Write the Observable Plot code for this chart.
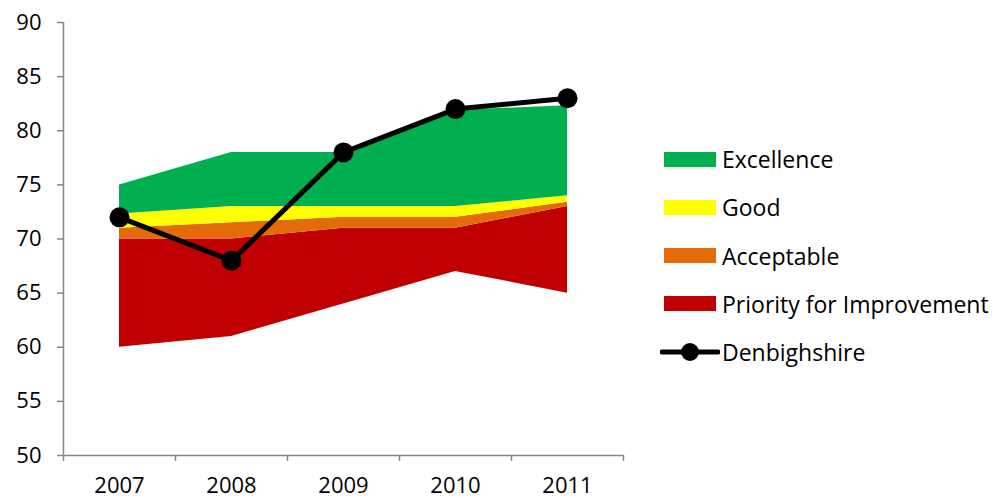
<!DOCTYPE html>
<html><head><meta charset="utf-8">
<script src="https://cdn.jsdelivr.net/npm/d3@7"></script>
<script src="https://cdn.jsdelivr.net/npm/@observablehq/plot@0.6"></script>
<style>
body{margin:0;background:#fff;font-family:"Open Sans",sans-serif;}
#wrap{position:relative;width:993px;height:498px;overflow:hidden;}
#legend{position:absolute;left:0;top:0;}
.item{position:absolute;display:flex;align-items:center;font-size:23px;white-space:nowrap;color:#000;height:30px;}
.sw{width:52px;height:15px;margin-right:6px;}
</style></head><body>
<div id="wrap"><div id="chart"></div><div id="legend"></div></div>
<script>
const years = [2007, 2008, 2009, 2010, 2011];
const priorityBase = [60, 61, 64, 67, 65];
const priorityTop = [70, 70, 71, 71, 73];
const acceptableTop = [71, 71.5, 72, 72, 73.4];
const goodTop = [72.3, 73, 73, 73, 74];
const excellenceTop = [75, 78, 78, 81.9, 82.3];
const denbighshire = [72, 68, 78, 82, 83];
const yTicks = [50, 55, 60, 65, 70, 75, 80, 85, 90];
const seriesNames = ["Excellence", "Good", "Acceptable", "Priority for Improvement", "Denbighshire"];
const colors = ["#00B050", "#FFFF00", "#E36C09", "#C00000", "#000000"];

const bandLo = [goodTop, acceptableTop, priorityTop, priorityBase];
const bandHi = [excellenceTop, goodTop, acceptableTop, priorityTop];
const bandRows = [];
bandLo.forEach((lo, k) => years.forEach((yr, i) => bandRows.push({band: seriesNames[k], year: yr, lo: lo[i], hi: bandHi[k][i]})));
const lineRows = years.map((yr, i) => ({year: yr, value: denbighshire[i]}));
const boundaries = [years[0] - 0.5, ...years.map(y => y + 0.5)];
const axisColor = "#868686";

const marks = [];
for (let k = 3; k >= 0; k--) {
  marks.push(Plot.areaY(bandRows.filter(d => d.band === seriesNames[k]), {x: "year", y1: "lo", y2: "hi", fill: colors[k]}));
}
marks.push(
  Plot.ruleX([boundaries[0]], {stroke: axisColor, strokeWidth: 1.5}),
  Plot.ruleY([yTicks[0]], {stroke: axisColor, strokeWidth: 1.5}),
  Plot.axisY({ticks: yTicks, tickSize: 6, tickPadding: 16, stroke: axisColor, strokeWidth: 1.5, fontSize: 22, fill: "#000", label: null}),
  Plot.axisX(boundaries, {tickSize: 6, tickFormat: () => "", stroke: axisColor, strokeWidth: 1.5, label: null}),
  Plot.axisX(years, {tickSize: 0, tickPadding: 22, tickFormat: d => String(d), fontSize: 22, fill: "#000", label: null}),
  Plot.line(lineRows, {x: "year", y: "value", stroke: "#000", strokeWidth: 5}),
  Plot.dot(lineRows, {x: "year", y: "value", r: 10, fill: "#000"})
);

const chart = Plot.plot({
  width: 993, height: 498,
  marginLeft: 63, marginRight: 370, marginTop: 22, marginBottom: 43,
  style: {fontFamily: "'Open Sans', sans-serif", background: "#fff", overflow: "visible"},
  x: {type: "linear", domain: [boundaries[0], boundaries[boundaries.length - 1]], axis: null},
  y: {domain: [yTicks[0], yTicks[yTicks.length - 1]], axis: null},
  marks
});
document.getElementById("chart").appendChild(chart);

const legend = document.getElementById("legend");
seriesNames.forEach((name, k) => {
  const item = document.createElement("div");
  item.className = "item";
  item.style.left = (k === 4 ? 660 : 664) + "px";
  item.style.top = (144 + k * 48.3) + "px";
  if (k < 4) {
    const sw = document.createElement("div");
    sw.className = "sw";
    sw.style.background = colors[k];
    item.appendChild(sw);
  } else {
    const svg = d3.create("svg").attr("width", 60).attr("height", 24).style("margin-right", "2px");
    svg.append("line").attr("x1", 2).attr("x2", 58).attr("y1", 12).attr("y2", 12).attr("stroke", "#000").attr("stroke-width", 5).attr("stroke-linecap", "round");
    svg.append("circle").attr("cx", 30).attr("cy", 12).attr("r", 9).attr("fill", "#000");
    item.appendChild(svg.node());
  }
  const t = document.createElement("span");
  t.textContent = name;
  item.appendChild(t);
  legend.appendChild(item);
});
</script>
</body></html>
